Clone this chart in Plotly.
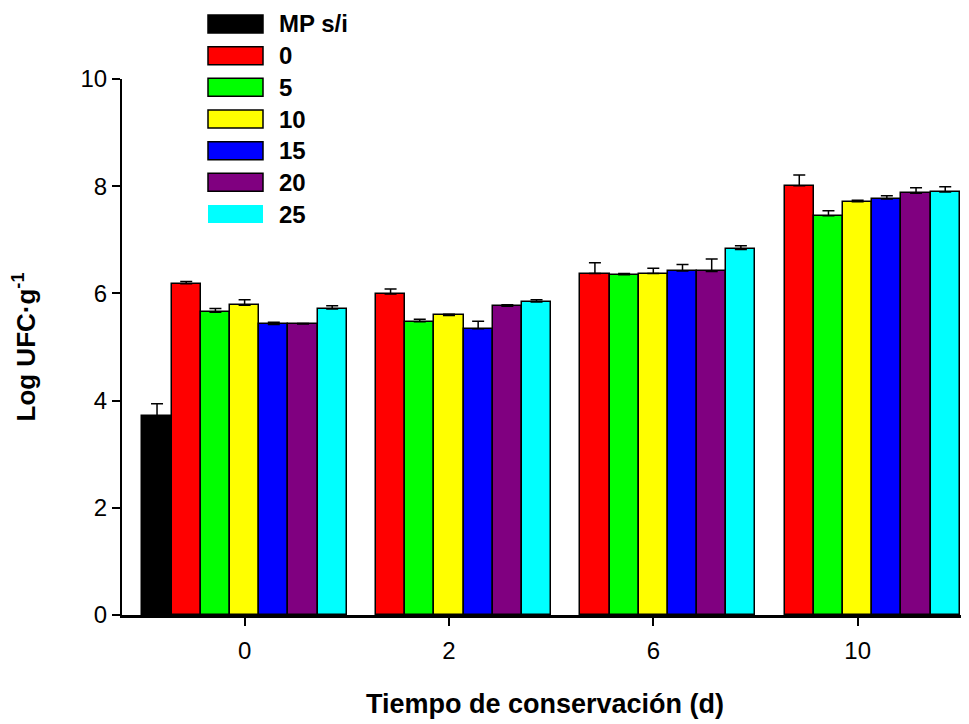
import plotly.graph_objects as go

# ---------------- data ----------------
categories = ["0", "2", "6", "10"]
series_names = ["MP s/i", "0", "5", "10", "15", "20", "25"]
series_colors = ["#000000", "#FF0000", "#00FF00", "#FFFF00", "#0000FF", "#800080", "#00FFFF"]

mp_si = [3.71, None, None, None]
s0 = [6.18, 5.99, 6.37, 8.01]
s5 = [5.65, 5.47, 6.35, 7.45]
s10 = [5.78, 5.59, 6.37, 7.71]
s15 = [5.42, 5.34, 6.42, 7.76]
s20 = [5.43, 5.76, 6.41, 7.87]
s25 = [5.71, 5.84, 6.82, 7.89]

mp_si_err = [0.23, 0, 0, 0]
s0_err = [0.04, 0.09, 0.20, 0.20]
s5_err = [0.07, 0.05, 0.02, 0.09]
s10_err = [0.10, 0.02, 0.10, 0.03]
s15_err = [0.04, 0.14, 0.12, 0.06]
s20_err = [0.01, 0.03, 0.23, 0.10]
s25_err = [0.06, 0.04, 0.07, 0.10]

series_values = [mp_si, s0, s5, s10, s15, s20, s25]
series_errors = [mp_si_err, s0_err, s5_err, s10_err, s15_err, s20_err, s25_err]

y_ticks = [0, 2, 4, 6, 8, 10]

# ---------------- layout geometry ----------------
W, H = 969, 724
OFF = 8  # page body margin
ML, MR, MT, MB = 114, 9, 71, 117
PW, PH = W - ML - MR, H - MT - MB
FONT = "Arial, Liberation Sans, sans-serif"


def px_x(p):
    return (p - OFF - ML) / PW


def px_y(p):
    return (H - MB - (p - OFF)) / PH


fig = go.Figure()
for name, color, vals, errs in zip(series_names, series_colors, series_values, series_errors):
    fig.add_trace(go.Bar(
        x=categories, y=vals, name=name,
        marker=dict(color=color, line=dict(color="black", width=1.5)),
        error_y=dict(type="data", symmetric=False, array=errs,
                     arrayminus=[0] * len(errs), color="black",
                     thickness=1.5, width=6),
        showlegend=False,
    ))

# custom legend (large swatches like the original)
shapes, annotations = [], []
for i, (name, color) in enumerate(zip(series_names, series_colors)):
    cy = 24 + 31.67 * i
    lw = 0 if i == len(series_names) - 1 else 1.5
    shapes.append(dict(type="rect", xref="paper", yref="paper",
                       x0=px_x(208), x1=px_x(263), y0=px_y(cy + 9), y1=px_y(cy - 9),
                       fillcolor=color, line=dict(color="black", width=lw)))
    annotations.append(dict(text=f"<b>{name}</b>", xref="paper", yref="paper",
                            x=px_x(277), y=px_y(cy), xanchor="left", yanchor="middle",
                            showarrow=False, font=dict(family=FONT, size=24, color="black")))

fig.update_layout(
    width=W, height=H,
    margin=dict(l=ML, r=MR, t=MT, b=MB, autoexpand=False),
    paper_bgcolor="white", plot_bgcolor="white",
    barmode="group", bargap=0, bargroupgap=0,
    font=dict(family=FONT, size=24, color="black"),
    shapes=shapes, annotations=annotations,
    xaxis=dict(
        type="category", range=[-0.6, 3.54],
        showline=True, linecolor="black", linewidth=2.5,
        ticks="outside", ticklen=8, tickwidth=1.5, tickcolor="black",
        showgrid=False, zeroline=False, ticklabelstandoff=4,
        tickfont=dict(family=FONT, size=24),
        title=dict(text="<b>Tiempo de conservación (d)</b>", standoff=32,
                   font=dict(family=FONT, size=27)),
    ),
    yaxis=dict(
        range=[0, 10], tickvals=y_ticks,
        showline=True, linecolor="black", linewidth=2,
        ticks="outside", ticklen=8, tickwidth=1.5, tickcolor="black",
        showgrid=False, zeroline=False,
        tickfont=dict(family=FONT, size=24),
        title=dict(text="<b>Log UFC·g<sup>-1</sup></b>", standoff=40,
                   font=dict(family=FONT, size=26)),
    ),
)

fig.write_html("out.html")
